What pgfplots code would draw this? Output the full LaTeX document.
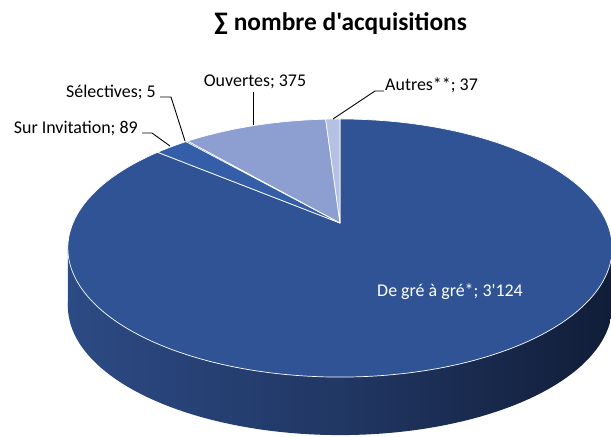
\documentclass[border=0pt]{standalone}
\usepackage{pgfplots}
\usepackage{pgfplotstable}
\pgfplotsset{compat=1.18}
\usepackage{fontspec}
\setmainfont{Carlito}[Ligatures=TeXOff]

\definecolor{cGre}{RGB}{47,83,148}
\definecolor{cInv}{RGB}{52,95,168}
\definecolor{cSel}{RGB}{60,100,175}
\definecolor{cOuv}{RGB}{140,159,208}
\definecolor{cAut}{RGB}{180,193,227}
\definecolor{sideL}{RGB}{44,74,132}
\definecolor{sideM}{RGB}{33,55,100}
\definecolor{sideR}{RGB}{17,29,56}

\pgfplotstableread{
label value
Gre 3124
Inv 89
Sel 5
Ouv 375
Aut 37
}\pietable

\pgfplotstablegetelem{0}{value}\of\pietable\let\vA\pgfplotsretval
\pgfplotstablegetelem{1}{value}\of\pietable\let\vB\pgfplotsretval
\pgfplotstablegetelem{2}{value}\of\pietable\let\vC\pgfplotsretval
\pgfplotstablegetelem{3}{value}\of\pietable\let\vD\pgfplotsretval
\pgfplotstablegetelem{4}{value}\of\pietable\let\vE\pgfplotsretval
\pgfmathsetmacro\tot{\vA+\vB+\vC+\vD+\vE}
\pgfmathsetmacro\aA{90}
\pgfmathsetmacro\aB{\aA-360*(\vA/\tot)}
\pgfmathsetmacro\aC{\aB-360*(\vB/\tot)}
\pgfmathsetmacro\aD{\aC-360*(\vC/\tot)}
\pgfmathsetmacro\aE{\aD-360*(\vD/\tot)}
\pgfmathsetmacro\aF{\aE-360*(\vE/\tot)}

\tikzset{declare function={
  px(\t)=340+267*cos(\t)/(1+0.194*sin(\t));
  py(\t)=223-124.2*sin(\t)/(1+0.194*sin(\t));
}}

\begin{document}
\begin{tikzpicture}
\begin{axis}[
  width=611bp, height=437bp, scale only axis,
  xmin=0, xmax=611, ymin=0, ymax=437, y dir=reverse,
  hide axis, clip=true,
]
\path (axis cs:0,0) rectangle (axis cs:611,437);
% side of the pie
\addplot[left color=sideL, right color=sideR, middle color=sideM, draw=none,
  domain=-180:180, samples=200, variable=\t] ({px(\t)},{py(\t)+58}) -- cycle;
\addplot[left color=sideL, right color=sideR, middle color=sideM, draw=none]
  coordinates {(67.8,248.2) (612.2,248.2) (612.2,306.2) (67.8,306.2)} -- cycle;
% top slices
\addplot[fill=cGre, draw=white, line width=0.7pt, line join=round,
  domain=\aB:\aA, samples=300, variable=\t] ({px(\t)},{py(\t)}) -- (axis cs:340,223) -- cycle;
\addplot[fill=cInv, draw=white, line width=0.7pt, line join=round,
  domain=\aC:\aB, samples=20, variable=\t] ({px(\t)},{py(\t)}) -- (axis cs:340,223) -- cycle;
\addplot[fill=cSel, draw=white, line width=0.5pt, line join=round,
  domain=\aD:\aC, samples=5, variable=\t] ({px(\t)},{py(\t)}) -- (axis cs:340,223) -- cycle;
\addplot[fill=cOuv, draw=white, line width=0.7pt, line join=round,
  domain=\aE:\aD, samples=60, variable=\t] ({px(\t)},{py(\t)}) -- (axis cs:340,223) -- cycle;
\addplot[fill=cAut, draw=white, line width=0.7pt, line join=round,
  domain=\aF:\aE, samples=10, variable=\t] ({px(\t)},{py(\t)}) -- (axis cs:340,223) -- cycle;
% title
\node[font=\fontsize{25.5}{30}\selectfont\bfseries] at (axis cs:340.5,24) {∑ nombre d'acquisitions};
% labels
\node[anchor=east, font=\fontsize{18}{21}\selectfont, inner sep=0pt] at (axis cs:138,128) {Sur Invitation; 89};
\draw[line width=0.9pt] (axis cs:142,133) -- (axis cs:152,133) -- (axis cs:170,146);
\node[anchor=east, font=\fontsize{18}{21}\selectfont, inner sep=0pt] at (axis cs:156,92) {Sélectives; 5};
\draw[line width=0.9pt] (axis cs:160,97) -- (axis cs:171,97) -- (axis cs:185,141);
\node[font=\fontsize{18}{21}\selectfont, inner sep=0pt] at (axis cs:255,82) {Ouvertes; 375};
\draw[line width=0.9pt] (axis cs:253,92) -- (axis cs:253,125);
\node[anchor=west, font=\fontsize{18}{21}\selectfont, inner sep=0pt] at (axis cs:385,85) {Autres**; 37};
\draw[line width=0.9pt] (axis cs:333,119) -- (axis cs:375,91) -- (axis cs:384,91);
\node[font=\fontsize{18}{21}\selectfont, text=white] at (axis cs:450,292) {De gré à gré*; 3'124};
\end{axis}
\end{tikzpicture}
\end{document}
